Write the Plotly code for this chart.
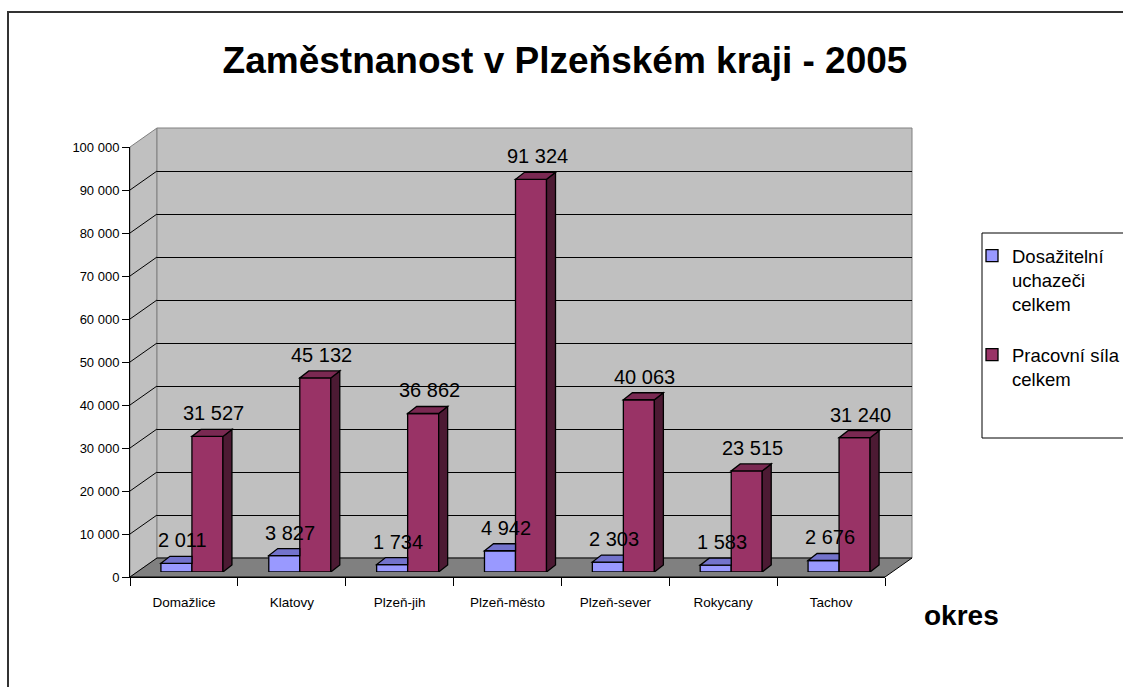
import plotly.graph_objects as go

# ---------------- data ----------------
districts = ["Domažlice", "Klatovy", "Plzeň-jih", "Plzeň-město", "Plzeň-sever", "Rokycany", "Tachov"]
applicants = [2011, 3827, 1734, 4942, 2303, 1583, 2676]          # Dosažitelní uchazeči celkem
workforce = [31527, 45132, 36862, 91324, 40063, 23515, 31240]    # Pracovní síla celkem
series_names = ["Dosažitelní<br>uchazeči<br>celkem", "Pracovní síla<br>celkem"]
y_ticks = [0, 10000, 20000, 30000, 40000, 50000, 60000, 70000, 80000, 90000, 100000]
chart_title = "Zaměstnanost v Plzeňském kraji - 2005"
x_title = "okres"

# ---------------- geometry (pixels) ----------------
W, H = 1123, 687
FX0, FX1 = 130, 885      # front plane, left/right
FY0, FY1 = 577, 147      # front plane, value 0 / max
DX, DY = 27, 19          # depth of floor / walls
BX, BY = 8, 5            # bar plane offset from front
TX, TY = 9, 7            # bar depth
YMAX = y_ticks[-1]
BARGAP = 0.425
FONT = "Liberation Sans, Arial, sans-serif"

front_cols = ["#9999FF", "#993366"]
top_cols = ["#7373CC", "#7A2952"]
side_cols = ["#4D4D80", "#4C1A33"]


def px(x):
    return x / W


def py(y):
    return 1 - y / H


def fmt(v):
    return f"{v:,}".replace(",", " ")


fig = go.Figure()

series = [applicants, workforce]
for k, vals in enumerate(series):
    fig.add_trace(go.Bar(
        x=districts, y=vals, name=series_names[k],
        xaxis="x2", yaxis="y2",
        marker=dict(color=front_cols[k], line=dict(color="black", width=1.3)),
        legendgroup=f"g{k}", hoverinfo="x+y",
    ))

# axis carriers (no visible marks): back-wall grid axes and front labelled axes
fig.add_trace(go.Scatter(x=[0.5], y=[None], xaxis="x", yaxis="y", mode="markers",
                         showlegend=False, hoverinfo="skip"))
fig.add_trace(go.Scatter(x=districts, y=[None] * len(districts), xaxis="x3", yaxis="y3",
                         mode="markers", showlegend=False, hoverinfo="skip"))

# ---------------- walls & floor (decoration) ----------------
shapes = []
shapes.append(dict(type="path", xref="paper", yref="paper", layer="below",
                   path=f"M{px(FX0)},{py(FY0)} L{px(FX0)},{py(FY1)} L{px(FX0+DX)},{py(FY1-DY)} L{px(FX0+DX)},{py(FY0-DY)} Z",
                   fillcolor="#C0C0C0", line=dict(color="#808080", width=1)))
shapes.append(dict(type="rect", xref="paper", yref="paper", layer="below",
                   x0=px(FX0+DX), x1=px(FX1+DX), y0=py(FY0-DY), y1=py(FY1-DY),
                   fillcolor="#C0C0C0", line=dict(color="#808080", width=1)))
shapes.append(dict(type="path", xref="paper", yref="paper", layer="below",
                   path=f"M{px(FX0)},{py(FY0)} L{px(FX1)},{py(FY0)} L{px(FX1+DX)},{py(FY0-DY)} L{px(FX0+DX)},{py(FY0-DY)} Z",
                   fillcolor="#808080", line=dict(color="black", width=1)))
val_px = (FY0 - FY1) / YMAX
for t in y_ticks[1:-1]:
    yf = FY0 - t * val_px
    shapes.append(dict(type="line", xref="paper", yref="paper", layer="below",
                       x0=px(FX0), y0=py(yf), x1=px(FX0+DX), y1=py(yf-DY),
                       line=dict(color="black", width=1)))
# legend box
shapes.append(dict(type="rect", xref="paper", yref="paper", layer="below",
                   x0=px(982), x1=px(1140), y0=py(233), y1=py(438),
                   fillcolor="white", line=dict(color="black", width=1)))
# outer chart border
shapes.append(dict(type="rect", xref="paper", yref="paper", layer="below",
                   x0=px(8), x1=px(1145), y0=py(12), y1=py(710),
                   fillcolor="rgba(0,0,0,0)", line=dict(color="#333333", width=2)))

# ---------------- 3D faces of bars ----------------
cat_px = (FX1 - FX0) / len(districts)
dxu = TX / cat_px
dyu = TY / val_px
w = (1 - BARGAP) / 2
annotations = []
for k, vals in enumerate(series):
    for i, v in enumerate(vals):
        left = i - w + k * w
        right = left + w
        if k == 0:
            top = f"M{left},{v} L{right},{v} L{right},{v+dyu} L{left+dxu},{v+dyu} Z"
        else:
            top = f"M{left},{v} L{right},{v} L{right+dxu},{v+dyu} L{left+dxu},{v+dyu} Z"
            side = f"M{right},0 L{right},{v} L{right+dxu},{v+dyu} L{right+dxu},{dyu} Z"
            shapes.append(dict(type="path", xref="x2", yref="y2", layer="above", path=side,
                               fillcolor=side_cols[k], line=dict(color="black", width=1.3)))
        shapes.append(dict(type="path", xref="x2", yref="y2", layer="above", path=top,
                           fillcolor=top_cols[k], line=dict(color="black", width=1.3)))
        annotations.append(dict(x=left + w / 2, y=v, xref="x2", yref="y2", text=fmt(v),
                                showarrow=False, xshift=6, yshift=23,
                                font=dict(family=FONT, size=20, color="black")))

annotations.append(dict(x=px(961), y=py(615), xref="paper", yref="paper", text=x_title,
                        showarrow=False, xanchor="center", yanchor="middle",
                        font=dict(family=FONT, size=28, color="black", weight="bold")))

fig.update_layout(
    width=W, height=H,
    margin=dict(l=0, r=0, t=0, b=0, autoexpand=False),
    paper_bgcolor="white", plot_bgcolor="rgba(0,0,0,0)",
    separators=". ",
    barmode="group", bargap=BARGAP, bargroupgap=0,
    title=dict(text=chart_title, x=px(565), xanchor="center", y=py(60), yanchor="middle",
               font=dict(family=FONT, size=37, color="black", weight="bold")),
    xaxis=dict(domain=[px(FX0+DX), px(FX1+DX)], range=[0, 1], visible=False, anchor="y"),
    yaxis=dict(domain=[py(FY0-DY), py(FY1-DY)], range=[0, YMAX], anchor="x",
               tickmode="array", tickvals=y_ticks[1:-1], showticklabels=False,
               showgrid=True, gridcolor="black", gridwidth=1, zeroline=False,
               showline=False, ticks=""),
    xaxis2=dict(domain=[px(FX0+BX), px(FX1+BX)], type="category", range=[-0.5, len(districts) - 0.5],
                categoryorder="array", categoryarray=districts, visible=False, anchor="y2"),
    yaxis2=dict(domain=[py(FY0-BY), py(FY1-BY)], range=[0, YMAX], visible=False, anchor="x2"),
    xaxis3=dict(domain=[px(FX0), px(FX1)], type="category", range=[-0.5, len(districts) - 0.5],
                categoryorder="array", categoryarray=districts, anchor="y3",
                showline=True, linecolor="black", linewidth=1, showgrid=False, zeroline=False,
                ticks="outside", tickson="boundaries", ticklen=8, tickcolor="black", tickwidth=1,
                ticklabelstandoff=13,
                tickfont=dict(family=FONT, size=13.5, color="black")),
    yaxis3=dict(domain=[py(FY0), py(FY1)], range=[0, YMAX], anchor="x3",
                tickmode="array", tickvals=y_ticks, tickformat=",d",
                showline=True, linecolor="black", linewidth=1, showgrid=False, zeroline=False,
                ticks="outside", ticklen=7, tickcolor="black", tickwidth=1,
                tickfont=dict(family=FONT, size=13, color="black")),
    showlegend=True,
    legend=dict(x=px(972), xanchor="left", y=py(237), yanchor="top",
                bgcolor="rgba(0,0,0,0)", borderwidth=0, valign="top",
                traceorder="grouped", tracegroupgap=24,
                font=dict(family=FONT, size=18.5, color="black")),
    shapes=shapes,
    annotations=annotations,
)

fig.write_html("out.html", config={"displayModeBar": False},
               post_script="document.body.style.margin='0px';")
